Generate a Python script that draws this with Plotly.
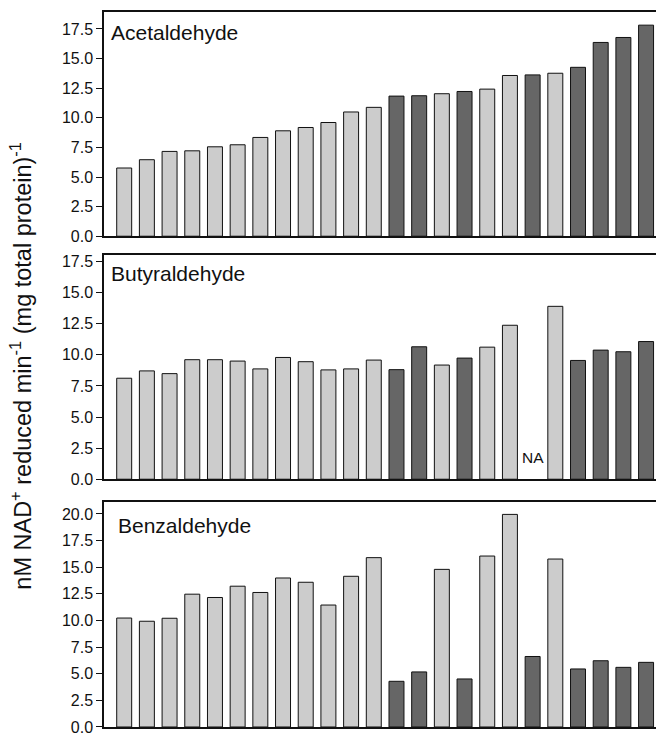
import plotly.graph_objects as go

# ---- data ----
samples = list(range(1, 25))
groups = ["light"] * 12 + ["dark", "dark", "light", "dark", "light", "light",
                           "dark", "light", "dark", "dark", "dark", "dark"]
acetaldehyde = [5.76, 6.46, 7.16, 7.21, 7.55, 7.72, 8.34, 8.90, 9.18, 9.60, 10.49, 10.88,
                11.83, 11.86, 12.03, 12.22, 12.42, 13.57, 13.62, 13.76, 14.26, 16.36, 16.78, 17.82]
butyraldehyde = [8.12, 8.71, 8.49, 9.61, 9.61, 9.50, 8.87, 9.79, 9.45, 8.79, 8.87, 9.58,
                 8.81, 10.65, 9.18, 9.74, 10.62, 12.38, None, 13.90, 9.55, 10.38, 10.25, 11.07]
benzaldehyde = [10.23, 9.93, 10.21, 12.47, 12.16, 13.22, 12.63, 13.99, 13.59, 11.45, 14.15, 15.90,
                4.29, 5.17, 14.80, 4.51, 16.05, 19.96, 6.62, 15.77, 5.45, 6.22, 5.60, 6.07]
panel_names = ["Acetaldehyde", "Butyraldehyde", "Benzaldehyde"]
y_ticks = {
    "Acetaldehyde": [0, 2.5, 5, 7.5, 10, 12.5, 15, 17.5],
    "Butyraldehyde": [0, 2.5, 5, 7.5, 10, 12.5, 15, 17.5],
    "Benzaldehyde": [0, 2.5, 5, 7.5, 10, 12.5, 15, 17.5, 20],
}
y_max = {"Acetaldehyde": 18.93, "Butyraldehyde": 18.02, "Benzaldehyde": 21.08}
na_label = "NA"

colors = {"light": "#cccccc", "dark": "#666666"}
bar_colors = [colors[g] for g in groups]
series = [acetaldehyde, butyraldehyde, benzaldehyde]

# page is offset by the default 8px body margin
OFF = 8
W, H = 664 - OFF, 736 - OFF
ml, mr, mt, mb = 104 - OFF, 0, 12 - OFF, 4.3
ph = H - mt - mb
# panel pixel extents on the page (top, bottom)
px = [(12, 237.7), (256.7, 482.3), (505.7, 731.7)]
domains = [[(H + OFF - mb - b) / ph, (H + OFF - mb - t) / ph] for t, b in px]
label_x = [0.009, 0.009, 0.021]
label_y = [0.97, 0.978, 0.958]

fig = go.Figure()
font = "Arial, Liberation Sans, sans-serif"
x_idx = list(range(len(samples)))
for i, (name, vals) in enumerate(zip(panel_names, series)):
    n = "" if i == 0 else str(i + 1)
    fig.add_trace(go.Bar(
        x=x_idx, y=vals, marker=dict(color=bar_colors, line=dict(color="#111111", width=1)),
        xaxis="x" + n, yaxis="y" + n, showlegend=False, hoverinfo="y",
        customdata=samples,
    ))
    fig.layout["xaxis" + n] = dict(
        domain=[0, 1], anchor="y" + n, range=[-0.89, 23.79],
        showticklabels=False, ticks="", showgrid=False, zeroline=False,
        showline=True, mirror=True, linecolor="#111111", linewidth=1.5,
    )
    fig.layout["yaxis" + n] = dict(
        domain=domains[i], anchor="x" + n, range=[0, y_max[name]],
        tickvals=y_ticks[name], ticktext=[f"{v:.1f}" for v in y_ticks[name]],
        ticks="outside", ticklen=6, tickwidth=1.2, tickcolor="#111111",
        showgrid=False, zeroline=False, showline=True, linecolor="#111111", linewidth=1.5,
        tickfont=dict(family=font, size=16, color="#111111"),
    )
    fig.add_annotation(
        text=name, xref="x" + n + " domain", yref="y" + n + " domain",
        x=label_x[i], y=label_y[i], xanchor="left", yanchor="top",
        showarrow=False, font=dict(family=font, size=21, color="#111111"),
    )

fig.add_annotation(
    text=na_label, xref="x2", yref="y2", x=18, y=1.78, showarrow=False,
    font=dict(family=font, size=15.5, color="#111111"),
)

fig.add_annotation(
    text="nM NAD<sup>+</sup> reduced min<sup>-1</sup> (mg total protein)<sup>-1</sup>",
    xref="paper", yref="paper", x=(21 - 104) / 560, y=(731.7 - 368) / ph,
    textangle=-90, showarrow=False, xanchor="center", yanchor="middle",
    font=dict(family=font, size=23.5, color="#111111"),
)

fig.update_layout(
    width=W, height=H, margin=dict(l=ml, r=mr, t=mt, b=mb),
    paper_bgcolor="white", plot_bgcolor="white", bargap=0.34,
)
fig.write_html("out.html")
